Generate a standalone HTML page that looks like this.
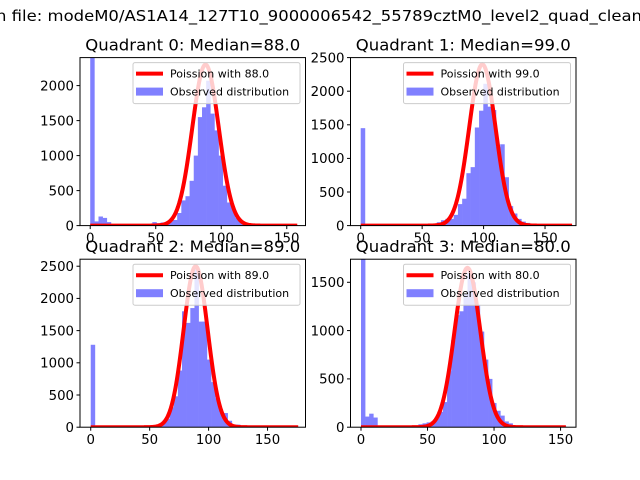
<!DOCTYPE html>
<html><head><meta charset="utf-8"><style>
html,body{margin:0;padding:0;background:#fff;}
svg{display:block;font-family:"DejaVu Sans","Liberation Sans",sans-serif;}
</style></head><body>
<svg id="fig" width="640" height="480" viewBox="0 0 640 480">
<rect width="640" height="480" fill="#fff"/>
<text x="-4" y="21" font-size="15" textLength="646" lengthAdjust="spacingAndGlyphs">n file: modeM0/AS1A14_127T10_9000006542_55789cztM0_level2_quad_clean</text>
<g id="plots"></g>
</svg>
<script>
const medians = [88, 99, 89, 80];
const peakHeights = [2300, 2400, 2500, 1650];
const binMax = [158, 172, 176, 154];
const q0Counts = [2600,60,130,110,50,15,15,15,15,15,15,15,15,15,15,50,35,45,50,60,80,180,360,420,640,1000,1550,1690,2070,1600,1360,1000,570,330,260,110,50,20,15,15,10,10,10,10,10,10,10,10,10,10];
const q1Counts = [1450,10,10,10,10,10,10,10,10,10,10,10,10,10,10,10,10,10,50,80,100,100,160,320,400,780,870,1460,1710,2110,1770,1720,1170,1210,720,290,180,100,60,40,15,10,10,10,10,10,10,10,10,10];
const q2Counts = [1280,0,0,0,0,0,0,0,0,0,0,0,0,0,0,0,10,70,130,310,480,880,1800,1620,1850,2500,1640,1640,1050,700,450,230,220,100,40,40,10,10,10,10,10,10,10,10,10,10,10,10,10,10];
const q3Counts = [1800,110,140,100,10,10,10,10,10,10,10,10,10,10,30,40,50,60,90,160,260,580,900,1160,1200,1380,1600,1500,1260,990,700,500,250,170,120,60,40,10,10,10,10,10,10,10,10,10,10,10,10,10];
const allCounts = [q0Counts, q1Counts, q2Counts, q3Counts];
const xLims = [[-7.8,164.3],[-8.3,175.2],[-9.1,182.2],[-7.9,161.6]];
const yMaxes = [2400, 2500, 2609, 1739];
const yTicks = [[0,500,1000,1500,2000],[0,500,1000,1500,2000,2500],[0,500,1000,1500,2000,2500],[0,500,1000,1500]];
const xTicks = [[0,50,100,150],[0,50,100,150],[0,50,100,150],[0,50,100,150]];
const boxes = [[80,57.6,305.5,225.6],[350.5,57.6,576,225.6],[80,259.2,305.5,427.2],[350.5,259.2,576,427.2]];
const NS='http://www.w3.org/2000/svg';
function mk(tag, attrs, parent){const e=document.createElementNS(NS,tag);for(const k in attrs)e.setAttribute(k,attrs[k]);parent.appendChild(e);return e;}
function curveShape(k,l){const s=1.08*Math.sqrt(l);return Math.exp(-0.5*((k-l)/s)**2);}
const root=document.getElementById('plots');
for(let q=0;q<4;q++){
  const [L,T,R,B]=boxes[q];
  const [x0,x1]=xLims[q];
  const xs=v=>L+(v-x0)/(x1-x0)*(R-L);
  const ys=v=>B-v/yMaxes[q]*(B-T);
  const g=mk('g',{},root);
  
  
  mk('clipPath',{id:'c'+q},g).appendChild(document.createElementNS(NS,'rect'));
  const cr=g.querySelector('clipPath rect');cr.setAttribute('x',L);cr.setAttribute('y',T);cr.setAttribute('width',R-L);cr.setAttribute('height',B-T);
  const plot=mk('g',{'clip-path':'url(#c'+q+')'},g);
  const counts=allCounts[q];const w=binMax[q]/counts.length;
  counts.forEach((c,i)=>{
    if(c<=0)return;
    const r=mk('rect',{x:xs(i*w),y:ys(c),width:xs((i+1)*w)-xs(i*w)+0.3,height:B-ys(c),fill:'#8080ff'},plot);
    
    
  });
  const lam=medians[q];
  let d='';
  for(let k=0;k<=binMax[q];k+=0.5){d+=(k?'L':'M')+xs(k).toFixed(2)+','+ys(peakHeights[q]*curveShape(k,lam)).toFixed(2);}
  const p=mk('path',{d:d,fill:'none',stroke:'#ff0000','stroke-width':4,'stroke-linejoin':'round'},plot);
  
  
  mk('rect',{x:L,y:T,width:R-L,height:B-T,fill:'none',stroke:'#000','stroke-width':1},g);
  xTicks[q].forEach(t=>{const X=xs(t);mk('line',{x1:X,x2:X,y1:B,y2:B+3.5,stroke:'#000'},g);
    const tx=mk('text',{x:X,y:B+17,'font-size':13.3,'text-anchor':'middle'},g);tx.textContent=t;
    
    });
  yTicks[q].forEach(t=>{const Y=ys(t);mk('line',{x1:L-3.5,x2:L,y1:Y,y2:Y,stroke:'#000'},g);
    const tx=mk('text',{x:L-6,y:Y+4.8,'font-size':13.3,'text-anchor':'end'},g);tx.textContent=t;
    
    });
  const ti=mk('text',{x:(L+R)/2,y:T-7,'font-size':16,'text-anchor':'middle',textLength:215,lengthAdjust:'spacingAndGlyphs'},g);
  ti.textContent='Quadrant '+q+': Median='+medians[q].toFixed(1);
  
  
  const lg=mk('g',{},g);
  
  
  const lx=L+53,ly=T+5;
  mk('rect',{x:lx,y:ly,width:167,height:41,rx:2,fill:'#fff','fill-opacity':0.8,stroke:'#ccc'},lg);
  mk('line',{x1:lx+3,x2:lx+30,y1:ly+11,y2:ly+11,stroke:'#f00','stroke-width':4},lg);
  mk('rect',{x:lx+3,y:ly+25,width:27,height:8,fill:'#8080ff'},lg);
  const t1=mk('text',{x:lx+37,y:ly+15,'font-size':11},lg);t1.textContent='Poission with '+medians[q].toFixed(1);
  
  
  const t2=mk('text',{x:lx+37,y:ly+33,'font-size':11},lg);t2.textContent='Observed distribution';
  
  
}
</script>
</body></html>
